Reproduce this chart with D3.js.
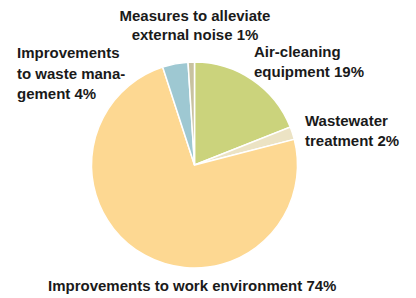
<!DOCTYPE html>
<html><head><meta charset="utf-8">
<script src="https://cdn.jsdelivr.net/npm/d3@7"></script>
<style>body{margin:0;background:#fff}svg{display:block}text{font-family:"Liberation Sans",Arial,sans-serif;font-weight:bold;fill:#1a1a1a}</style>
</head><body>
<script>
const categories = ["Air-cleaning equipment","Wastewater treatment","Improvements to work environment","Improvements to waste management","Measures to alleviate external noise"];
const values = [19, 2, 74, 4, 1];
const colors = ["#cbd37c","#ece3c4","#fdd892","#9ec8d2","#c8c29f"];
const labelLines = [["Air-cleaning","equipment 19%"],["Wastewater","treatment 2%"],["Improvements to work environment 74%"],["Improvements","to waste mana-","gement 4%"],["Measures to alleviate","external noise 1%"]];

const W=416,H=298;
const svg=d3.select("body").append("svg").attr("width",W).attr("height",H);
const cx=194.5, cy=165, r=103;
const pie=d3.pie().sort(null).value(d=>d);
const arc=d3.arc().innerRadius(0).outerRadius(r);
const g=svg.append("g").attr("transform",`translate(${cx},${cy})`);
g.selectAll("path").data(pie(values)).join("path")
 .attr("d",arc).attr("fill",(d,i)=>colors[i]).attr("stroke","#fff").attr("stroke-width",1.5);

const fs=15;
const labelPos=[
 {x:254,y:57,anchor:"start",lh:20},
 {x:305,y:126,anchor:"start",lh:19.5},
 {x:48,y:291,anchor:"start",lh:20},
 {x:17,y:58,anchor:"start",lh:20.5},
 {x:195,y:21,anchor:"middle",lh:19}
];
labelLines.forEach((lines,i)=>{
 const p=labelPos[i];
 const t=svg.append("text").attr("x",p.x).attr("y",p.y).attr("text-anchor",p.anchor).style("font-size",fs+"px");
 lines.forEach((l,j)=>t.append("tspan").attr("x",p.x).attr("dy",j?p.lh:0).text(l));
});
</script>
</body></html>
